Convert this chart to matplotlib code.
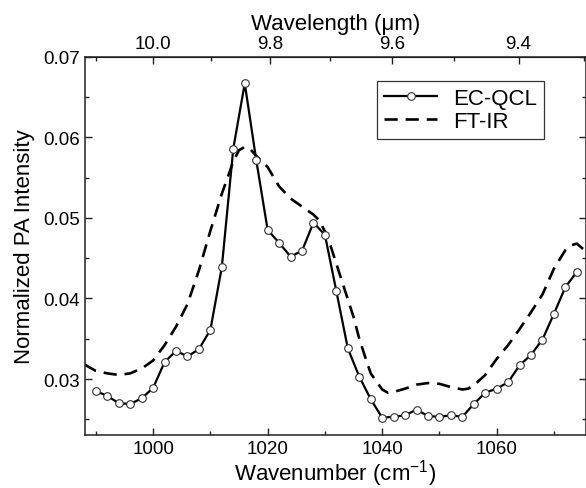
import numpy as np
import matplotlib
matplotlib.use('Agg')
import matplotlib.pyplot as plt
from matplotlib.ticker import MultipleLocator, FormatStrFormatter

plt.rcParams['font.family'] = ['Liberation Sans', 'DejaVu Sans']

# EC-QCL measured points
qcl_x = [990, 992, 994, 996, 998, 1000, 1002, 1004, 1006, 1008, 1010, 1012,
         1014, 1016, 1018, 1020, 1022, 1024, 1026, 1028, 1030, 1032, 1034,
         1036, 1038, 1040, 1042, 1044, 1046, 1048, 1050, 1052, 1054, 1056,
         1058, 1060, 1062, 1064, 1066, 1068, 1070, 1072, 1074]
qcl_y = [0.0285, 0.0279, 0.0270, 0.0269, 0.0276, 0.0289, 0.0321, 0.0335,
         0.0328, 0.0337, 0.0361, 0.0439, 0.0586, 0.0667, 0.0572, 0.0485,
         0.0469, 0.0452, 0.0459, 0.0494, 0.0479, 0.0409, 0.0338, 0.0303,
         0.0275, 0.0252, 0.0253, 0.0255, 0.0262, 0.0254, 0.0253, 0.0255,
         0.0253, 0.0269, 0.0283, 0.0288, 0.0296, 0.0317, 0.0330, 0.0349,
         0.0381, 0.0414, 0.0433]

# FT-IR reference spectrum
ftir_x = [988, 990, 992, 994, 996, 998, 1000, 1002, 1004, 1006, 1008, 1010,
          1012, 1014, 1015, 1016, 1017, 1018, 1020, 1022, 1024, 1026, 1028,
          1029, 1030, 1031, 1032, 1033, 1034, 1035, 1036, 1037, 1038, 1040,
          1041, 1042, 1044, 1046, 1048, 1050, 1052, 1054, 1055, 1056, 1058,
          1060, 1062, 1064, 1066, 1068, 1070, 1072, 1073, 1074, 1075, 1076]
ftir_y = [0.0318, 0.0310, 0.0307, 0.0305, 0.0307, 0.0313, 0.0323, 0.0342,
          0.0365, 0.0393, 0.0435, 0.0484, 0.0530, 0.0570, 0.0584, 0.0588,
          0.0585, 0.0577, 0.0563, 0.0539, 0.0524, 0.0514, 0.0504, 0.0497,
          0.0483, 0.0465, 0.0443, 0.0421, 0.0399, 0.0377, 0.0350, 0.0328,
          0.0307, 0.0287, 0.0283, 0.0284, 0.0288, 0.0293, 0.0295, 0.0294,
          0.0290, 0.0287, 0.0288, 0.0292, 0.0305, 0.0325, 0.0342, 0.0362,
          0.0383, 0.0405, 0.0437, 0.0460, 0.0466, 0.0468, 0.0462, 0.0457]

fig = plt.figure(figsize=(5.86, 4.89), dpi=100)
ax = fig.add_axes([85 / 586, 53 / 489, 501 / 586, 378.3 / 489])

ax.plot(qcl_x, qcl_y, color='black', lw=1.6, marker='o', ms=5.5,
        mfc='white', mec='#333333', mew=0.8, label='EC-QCL', zorder=3)
ax.plot(ftir_x, ftir_y, color='black', lw=1.9, ls=(0, (5, 3)),
        label='FT-IR', zorder=2)

ax.set_xlim(988.1, 1075.6)
ax.set_ylim(0.02305, 0.07)

ax.xaxis.set_major_locator(MultipleLocator(20))
ax.xaxis.set_minor_locator(MultipleLocator(10))
ax.yaxis.set_major_locator(MultipleLocator(0.01))
ax.yaxis.set_minor_locator(MultipleLocator(0.005))
ax.yaxis.set_major_formatter(FormatStrFormatter('%.2f'))

ax.tick_params(which='both', direction='in', top=False, right=True,
               labelsize=13.5, color='#222222')
ax.tick_params(which='major', length=4.8, width=1.0)
ax.tick_params(which='minor', length=2.7, width=1.0)
for sp in ax.spines.values():
    sp.set_linewidth(1.1)
    sp.set_color('#222222')

ax.set_xlabel('Wavenumber (cm$^{\\mathregular{-1}}$)', fontsize=16, labelpad=0)
ax.set_ylabel('Normalized PA Intensity', fontsize=16, labelpad=6)


def to_wl(x):
    x = np.asarray(x, dtype=float)
    with np.errstate(divide='ignore'):
        return 1e4 / x


secax = ax.secondary_xaxis('top', functions=(to_wl, to_wl))
secax.xaxis.set_major_locator(MultipleLocator(0.2))
secax.xaxis.set_minor_locator(MultipleLocator(0.1))
secax.xaxis.set_major_formatter(FormatStrFormatter('%.1f'))
secax.tick_params(which='both', direction='in', labelsize=13.5, color='#222222')
secax.tick_params(which='major', length=4.8, width=1.0)
secax.tick_params(which='minor', length=2.7, width=1.0)
secax.set_xlabel('Wavelength (μm)', fontsize=16, labelpad=4)

leg = ax.legend(loc='upper right', fontsize=16, numpoints=1,
                handlelength=2.4, handletextpad=0.7, borderpad=0.3,
                labelspacing=0.1, fancybox=False, framealpha=1,
                edgecolor='#333333', borderaxespad=0)
leg.get_frame().set_linewidth(0.9)
leg.set_bbox_to_anchor((543.5 / 586, (489 - 82) / 489), transform=fig.transFigure)

fig.savefig('out.png', dpi=100)
